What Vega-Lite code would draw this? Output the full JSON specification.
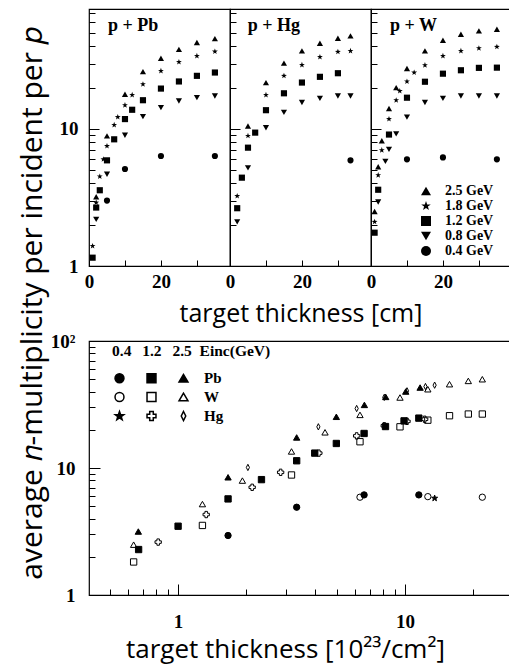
{
  "$schema": "https://vega.github.io/schema/vega-lite/v6.json",
  "padding": {"left": 17, "top": 8, "right": 0, "bottom": 5},
  "background": "white",
  "config": {
    "view": {"stroke": "black", "strokeWidth": 1.2},
    "axis": {"grid": false, "domain": false, "tickColor": "black", "tickWidth": 1, "labelColor": "black", "labelFont": "Liberation Serif", "labelFontWeight": "bold", "labelFontSize": 19, "titleFont": "Open Sans", "titleFontWeight": "normal", "titleColor": "black", "titleFontSize": 25},
    "legend": {"labelColor": "black", "titleColor": "black"}
  },
  "datasets": {
    "top": [
      {"target": "Pb", "E": "2.5 GeV", "cm": 2, "n": 3.2},
      {"target": "Pb", "E": "2.5 GeV", "cm": 5, "n": 8.9},
      {"target": "Pb", "E": "2.5 GeV", "cm": 10, "n": 17.9},
      {"target": "Pb", "E": "2.5 GeV", "cm": 15, "n": 26.2},
      {"target": "Pb", "E": "2.5 GeV", "cm": 20, "n": 32.8},
      {"target": "Pb", "E": "2.5 GeV", "cm": 25, "n": 38.1},
      {"target": "Pb", "E": "2.5 GeV", "cm": 30, "n": 42.7},
      {"target": "Pb", "E": "2.5 GeV", "cm": 35, "n": 45.6},
      {"target": "Pb", "E": "1.8 GeV", "cm": 1, "n": 1.4},
      {"target": "Pb", "E": "1.8 GeV", "cm": 2, "n": 2.9},
      {"target": "Pb", "E": "1.8 GeV", "cm": 3, "n": 4.5},
      {"target": "Pb", "E": "1.8 GeV", "cm": 4, "n": 6.0},
      {"target": "Pb", "E": "1.8 GeV", "cm": 5, "n": 7.5},
      {"target": "Pb", "E": "1.8 GeV", "cm": 7, "n": 10.7},
      {"target": "Pb", "E": "1.8 GeV", "cm": 8, "n": 12.2},
      {"target": "Pb", "E": "1.8 GeV", "cm": 10, "n": 14.9},
      {"target": "Pb", "E": "1.8 GeV", "cm": 12, "n": 17.7},
      {"target": "Pb", "E": "1.8 GeV", "cm": 15, "n": 21.2},
      {"target": "Pb", "E": "1.8 GeV", "cm": 20, "n": 26.5},
      {"target": "Pb", "E": "1.8 GeV", "cm": 25, "n": 30.8},
      {"target": "Pb", "E": "1.8 GeV", "cm": 30, "n": 34.1},
      {"target": "Pb", "E": "1.8 GeV", "cm": 35, "n": 36.7},
      {"target": "Pb", "E": "1.2 GeV", "cm": 1, "n": 1.15},
      {"target": "Pb", "E": "1.2 GeV", "cm": 2, "n": 2.67},
      {"target": "Pb", "E": "1.2 GeV", "cm": 3, "n": 3.57},
      {"target": "Pb", "E": "1.2 GeV", "cm": 5, "n": 5.9},
      {"target": "Pb", "E": "1.2 GeV", "cm": 7, "n": 8.4},
      {"target": "Pb", "E": "1.2 GeV", "cm": 10, "n": 11.8},
      {"target": "Pb", "E": "1.2 GeV", "cm": 12, "n": 13.8},
      {"target": "Pb", "E": "1.2 GeV", "cm": 15, "n": 16.2},
      {"target": "Pb", "E": "1.2 GeV", "cm": 20, "n": 19.7},
      {"target": "Pb", "E": "1.2 GeV", "cm": 25, "n": 22.2},
      {"target": "Pb", "E": "1.2 GeV", "cm": 30, "n": 24.4},
      {"target": "Pb", "E": "1.2 GeV", "cm": 35, "n": 25.8},
      {"target": "Pb", "E": "0.8 GeV", "cm": 2, "n": 2.19},
      {"target": "Pb", "E": "0.8 GeV", "cm": 5, "n": 4.67},
      {"target": "Pb", "E": "0.8 GeV", "cm": 10, "n": 9.0},
      {"target": "Pb", "E": "0.8 GeV", "cm": 15, "n": 12.3},
      {"target": "Pb", "E": "0.8 GeV", "cm": 20, "n": 14.3},
      {"target": "Pb", "E": "0.8 GeV", "cm": 25, "n": 16.0},
      {"target": "Pb", "E": "0.8 GeV", "cm": 30, "n": 16.9},
      {"target": "Pb", "E": "0.8 GeV", "cm": 35, "n": 17.4},
      {"target": "Pb", "E": "0.4 GeV", "cm": 5, "n": 3.0},
      {"target": "Pb", "E": "0.4 GeV", "cm": 10, "n": 5.1},
      {"target": "Pb", "E": "0.4 GeV", "cm": 20, "n": 6.35},
      {"target": "Pb", "E": "0.4 GeV", "cm": 35, "n": 6.35},
      {"target": "Hg", "E": "2.5 GeV", "cm": 5, "n": 10.5},
      {"target": "Hg", "E": "2.5 GeV", "cm": 10, "n": 21.8},
      {"target": "Hg", "E": "2.5 GeV", "cm": 15, "n": 30.2},
      {"target": "Hg", "E": "2.5 GeV", "cm": 20, "n": 37.1},
      {"target": "Hg", "E": "2.5 GeV", "cm": 25, "n": 42.2},
      {"target": "Hg", "E": "2.5 GeV", "cm": 30, "n": 45.9},
      {"target": "Hg", "E": "2.5 GeV", "cm": 33.5, "n": 47.7},
      {"target": "Hg", "E": "1.8 GeV", "cm": 2, "n": 3.24},
      {"target": "Hg", "E": "1.8 GeV", "cm": 5, "n": 8.9},
      {"target": "Hg", "E": "1.8 GeV", "cm": 10, "n": 17.7},
      {"target": "Hg", "E": "1.8 GeV", "cm": 15, "n": 24.4},
      {"target": "Hg", "E": "1.8 GeV", "cm": 20, "n": 29.3},
      {"target": "Hg", "E": "1.8 GeV", "cm": 25, "n": 33.5},
      {"target": "Hg", "E": "1.8 GeV", "cm": 30, "n": 36.5},
      {"target": "Hg", "E": "1.8 GeV", "cm": 33.5, "n": 37.1},
      {"target": "Hg", "E": "1.2 GeV", "cm": 2, "n": 2.64},
      {"target": "Hg", "E": "1.2 GeV", "cm": 3.3, "n": 4.41},
      {"target": "Hg", "E": "1.2 GeV", "cm": 5, "n": 7.3},
      {"target": "Hg", "E": "1.2 GeV", "cm": 7, "n": 9.4},
      {"target": "Hg", "E": "1.2 GeV", "cm": 10, "n": 13.7},
      {"target": "Hg", "E": "1.2 GeV", "cm": 15, "n": 18.2},
      {"target": "Hg", "E": "1.2 GeV", "cm": 20, "n": 21.8},
      {"target": "Hg", "E": "1.2 GeV", "cm": 25, "n": 24.0},
      {"target": "Hg", "E": "1.2 GeV", "cm": 30, "n": 25.5},
      {"target": "Hg", "E": "0.8 GeV", "cm": 2, "n": 2.1},
      {"target": "Hg", "E": "0.8 GeV", "cm": 5, "n": 5.2},
      {"target": "Hg", "E": "0.8 GeV", "cm": 10, "n": 10.2},
      {"target": "Hg", "E": "0.8 GeV", "cm": 15, "n": 13.2},
      {"target": "Hg", "E": "0.8 GeV", "cm": 20, "n": 15.6},
      {"target": "Hg", "E": "0.8 GeV", "cm": 25, "n": 16.7},
      {"target": "Hg", "E": "0.8 GeV", "cm": 30, "n": 17.4},
      {"target": "Hg", "E": "0.8 GeV", "cm": 33.5, "n": 17.4},
      {"target": "Hg", "E": "0.4 GeV", "cm": 33.5, "n": 5.9},
      {"target": "W", "E": "2.5 GeV", "cm": 1, "n": 2.5},
      {"target": "W", "E": "2.5 GeV", "cm": 2, "n": 5.3},
      {"target": "W", "E": "2.5 GeV", "cm": 3, "n": 8.2},
      {"target": "W", "E": "2.5 GeV", "cm": 5, "n": 14.1},
      {"target": "W", "E": "2.5 GeV", "cm": 7, "n": 20.0},
      {"target": "W", "E": "2.5 GeV", "cm": 10, "n": 27.6},
      {"target": "W", "E": "2.5 GeV", "cm": 15, "n": 37.1},
      {"target": "W", "E": "2.5 GeV", "cm": 20, "n": 44.4},
      {"target": "W", "E": "2.5 GeV", "cm": 25, "n": 49.1},
      {"target": "W", "E": "2.5 GeV", "cm": 30, "n": 51.9},
      {"target": "W", "E": "2.5 GeV", "cm": 35, "n": 53.4},
      {"target": "W", "E": "1.8 GeV", "cm": 1, "n": 2.1},
      {"target": "W", "E": "1.8 GeV", "cm": 2, "n": 4.6},
      {"target": "W", "E": "1.8 GeV", "cm": 3, "n": 7.0},
      {"target": "W", "E": "1.8 GeV", "cm": 5, "n": 11.8},
      {"target": "W", "E": "1.8 GeV", "cm": 7, "n": 16.2},
      {"target": "W", "E": "1.8 GeV", "cm": 8, "n": 18.9},
      {"target": "W", "E": "1.8 GeV", "cm": 10, "n": 22.2},
      {"target": "W", "E": "1.8 GeV", "cm": 12, "n": 25.8},
      {"target": "W", "E": "1.8 GeV", "cm": 15, "n": 29.2},
      {"target": "W", "E": "1.8 GeV", "cm": 20, "n": 34.1},
      {"target": "W", "E": "1.8 GeV", "cm": 25, "n": 37.1},
      {"target": "W", "E": "1.8 GeV", "cm": 30, "n": 38.8},
      {"target": "W", "E": "1.8 GeV", "cm": 35, "n": 39.7},
      {"target": "W", "E": "1.2 GeV", "cm": 1, "n": 1.75},
      {"target": "W", "E": "1.2 GeV", "cm": 2, "n": 3.6},
      {"target": "W", "E": "1.2 GeV", "cm": 5, "n": 9.1},
      {"target": "W", "E": "1.2 GeV", "cm": 10, "n": 16.9},
      {"target": "W", "E": "1.2 GeV", "cm": 15, "n": 22.1},
      {"target": "W", "E": "1.2 GeV", "cm": 20, "n": 25.3},
      {"target": "W", "E": "1.2 GeV", "cm": 25, "n": 26.8},
      {"target": "W", "E": "1.2 GeV", "cm": 30, "n": 27.9},
      {"target": "W", "E": "1.2 GeV", "cm": 35, "n": 28.0},
      {"target": "W", "E": "0.8 GeV", "cm": 2, "n": 2.93},
      {"target": "W", "E": "0.8 GeV", "cm": 4, "n": 5.8},
      {"target": "W", "E": "0.8 GeV", "cm": 5, "n": 7.1},
      {"target": "W", "E": "0.8 GeV", "cm": 7, "n": 9.2},
      {"target": "W", "E": "0.8 GeV", "cm": 10, "n": 12.2},
      {"target": "W", "E": "0.8 GeV", "cm": 15, "n": 15.6},
      {"target": "W", "E": "0.8 GeV", "cm": 20, "n": 16.7},
      {"target": "W", "E": "0.8 GeV", "cm": 25, "n": 17.4},
      {"target": "W", "E": "0.8 GeV", "cm": 30, "n": 17.4},
      {"target": "W", "E": "0.8 GeV", "cm": 35, "n": 17.4},
      {"target": "W", "E": "0.4 GeV", "cm": 10, "n": 6.0},
      {"target": "W", "E": "0.4 GeV", "cm": 20, "n": 6.2},
      {"target": "W", "E": "0.4 GeV", "cm": 35, "n": 6.0}
    ],
    "bottom": [
      {"key": "Pb 0.4", "t": 1.66, "n": 2.94},
      {"key": "Pb 0.4", "t": 3.33, "n": 4.91},
      {"key": "Pb 0.4", "t": 6.6, "n": 6.14},
      {"key": "Pb 0.4", "t": 11.5, "n": 6.14},
      {"key": "Pb 1.2", "t": 0.67, "n": 2.28},
      {"key": "Pb 1.2", "t": 1.0, "n": 3.48},
      {"key": "Pb 1.2", "t": 1.66, "n": 5.71},
      {"key": "Pb 1.2", "t": 2.33, "n": 8.1},
      {"key": "Pb 1.2", "t": 3.33, "n": 11.4},
      {"key": "Pb 1.2", "t": 4.0, "n": 13.1},
      {"key": "Pb 1.2", "t": 4.98, "n": 15.6},
      {"key": "Pb 1.2", "t": 6.6, "n": 18.7},
      {"key": "Pb 1.2", "t": 8.2, "n": 21.2},
      {"key": "Pb 1.2", "t": 9.9, "n": 23.5},
      {"key": "Pb 1.2", "t": 11.5, "n": 24.7},
      {"key": "Pb 2.5", "t": 0.668, "n": 3.16},
      {"key": "Pb 2.5", "t": 1.66, "n": 8.45},
      {"key": "Pb 2.5", "t": 3.33, "n": 17.4},
      {"key": "Pb 2.5", "t": 4.98, "n": 25.3},
      {"key": "Pb 2.5", "t": 6.62, "n": 31.4},
      {"key": "Pb 2.5", "t": 8.22, "n": 36.3},
      {"key": "Pb 2.5", "t": 10.07, "n": 40.0},
      {"key": "Pb 2.5", "t": 11.65, "n": 43.0},
      {"key": "W 0.4", "t": 6.33, "n": 5.89},
      {"key": "W 0.4", "t": 12.6, "n": 5.95},
      {"key": "W 0.4", "t": 21.9, "n": 5.89},
      {"key": "W 1.2", "t": 0.637, "n": 1.82},
      {"key": "W 1.2", "t": 1.28, "n": 3.53},
      {"key": "W 1.2", "t": 3.16, "n": 8.81},
      {"key": "W 1.2", "t": 6.33, "n": 16.1},
      {"key": "W 1.2", "t": 9.5, "n": 21.1},
      {"key": "W 1.2", "t": 12.6, "n": 23.8},
      {"key": "W 1.2", "t": 15.7, "n": 25.8},
      {"key": "W 1.2", "t": 19.0, "n": 26.6},
      {"key": "W 1.2", "t": 21.9, "n": 26.6},
      {"key": "W 2.5", "t": 0.637, "n": 2.49},
      {"key": "W 2.5", "t": 1.28, "n": 5.2},
      {"key": "W 2.5", "t": 1.92, "n": 7.96},
      {"key": "W 2.5", "t": 3.16, "n": 13.5},
      {"key": "W 2.5", "t": 4.44, "n": 19.1},
      {"key": "W 2.5", "t": 6.33, "n": 26.2},
      {"key": "W 2.5", "t": 9.5, "n": 35.9},
      {"key": "W 2.5", "t": 12.6, "n": 41.7},
      {"key": "W 2.5", "t": 15.7, "n": 45.7},
      {"key": "W 2.5", "t": 19.0, "n": 48.5},
      {"key": "W 2.5", "t": 21.9, "n": 50.0},
      {"key": "Hg 0.4", "t": 13.5, "n": 5.78},
      {"key": "Hg 1.2", "t": 0.817, "n": 2.61},
      {"key": "Hg 1.2", "t": 1.33, "n": 4.3},
      {"key": "Hg 1.2", "t": 2.12, "n": 7.05},
      {"key": "Hg 1.2", "t": 2.83, "n": 9.25},
      {"key": "Hg 1.2", "t": 4.17, "n": 13.1},
      {"key": "Hg 1.2", "t": 6.12, "n": 17.9},
      {"key": "Hg 1.2", "t": 8.1, "n": 21.5},
      {"key": "Hg 1.2", "t": 10.2, "n": 23.3},
      {"key": "Hg 1.2", "t": 12.2, "n": 24.2},
      {"key": "Hg 2.5", "t": 2.03, "n": 10.1},
      {"key": "Hg 2.5", "t": 4.15, "n": 21.1},
      {"key": "Hg 2.5", "t": 6.12, "n": 29.4},
      {"key": "Hg 2.5", "t": 8.1, "n": 36.0},
      {"key": "Hg 2.5", "t": 10.2, "n": 40.5},
      {"key": "Hg 2.5", "t": 12.3, "n": 43.8},
      {"key": "Hg 2.5", "t": 13.5, "n": 44.9}
    ],
    "labels": [
      {"target": "Pb", "label": "p + Pb"},
      {"target": "Hg", "label": "p + Hg"},
      {"target": "W", "label": "p + W"}
    ],
    "ytitle": [
      {"title": "average 𝑛-multiplicity per incident per 𝑝"}
    ]
  },
  "spacing": 0,
  "resolve": {"scale": {"x": "independent", "y": "independent", "shape": "independent", "fill": "independent"}, "legend": {"shape": "independent", "fill": "independent"}},
  "hconcat": [
    {
      "width": 30, "height": 589,
      "view": {"stroke": null},
      "data": {"name": "ytitle"},
      "mark": {"type": "text", "angle": 270, "font": "Open Sans", "fontSize": 30, "align": "center", "baseline": "middle", "color": "black"},
      "encoding": {"text": {"field": "title"}}
    },
    {
      "spacing": 4,
      "resolve": {"scale": {"x": "independent", "y": "independent", "shape": "independent", "fill": "independent"}, "legend": {"shape": "independent", "fill": "independent"}},
      "vconcat": [
        {
          "bounds": "flush",
          "spacing": 0,
          "resolve": {"scale": {"x": "independent", "y": "independent", "shape": "independent"}, "legend": {"shape": "independent"}},
          "hconcat": [
            {
              "width": 141, "height": 257,
              "layer": [
                {
                  "data": {"name": "top"},
                  "transform": [{"filter": "datum.target == 'Pb'"}],
                  "mark": {"type": "point", "filled": true, "color": "black", "size": 38, "opacity": 1},
                  "encoding": {
                    "x": {"field": "cm", "type": "quantitative", "scale": {"domain": [0, 39.2], "nice": false, "zero": false},
                          "axis": {"values": [0, 5, 10, 15, 20, 25, 30, 35], "labelExpr": "datum.value == 0 || datum.value == 20 ? datum.label : ''", "title": null, "tickSize": -6, "labelPadding": 12, "labelFlush": false}},
                    "y": {"field": "n", "type": "quantitative", "scale": {"type": "log", "domain": [1, 75], "nice": false},
                          "axis": {"values": [1, 2, 3, 4, 5, 6, 7, 8, 9, 10, 20, 30, 40, 50, 60, 70], "labelExpr": "datum.value == 1 || datum.value == 10 ? datum.label : ''", "title": null,
                                   "tickSize": {"condition": {"test": "datum.value == 10", "value": -10}, "value": -6},
                                   "labelPadding": {"condition": {"test": "datum.value == 10", "value": 21}, "value": 17}, "labelFlush": false}},
                    "shape": {"field": "E", "type": "nominal", "scale": {"domain": ["2.5 GeV", "1.8 GeV", "1.2 GeV", "0.8 GeV", "0.4 GeV"], "range": ["triangle-up", "M0,-1L0.235,-0.324L0.951,-0.309L0.38,0.124L0.588,0.809L0,0.4L-0.588,0.809L-0.38,0.124L-0.951,-0.309L-0.235,-0.324Z", "square", "triangle-down", "circle"]}, "legend": null}
                  }
                },
                {
                  "data": {"name": "labels"},
                  "transform": [{"filter": "datum.target == 'Pb'"}],
                  "mark": {"type": "text", "font": "Liberation Serif", "fontWeight": "bold", "fontSize": 18, "align": "left", "baseline": "middle", "color": "black"},
                  "encoding": {"x": {"datum": 5.3}, "y": {"datum": 56}, "text": {"field": "label"}}
                }
              ]
            },
            {
              "width": 141, "height": 257,
              "layer": [
                {
                  "data": {"name": "top"},
                  "transform": [{"filter": "datum.target == 'Hg'"}],
                  "mark": {"type": "point", "filled": true, "color": "black", "size": 38, "opacity": 1},
                  "encoding": {
                    "x": {"field": "cm", "type": "quantitative", "scale": {"domain": [0, 39.2], "nice": false, "zero": false},
                          "axis": {"values": [0, 5, 10, 15, 20, 25, 30, 35], "labelExpr": "datum.value == 0 || datum.value == 20 ? datum.label : ''", "title": "target thickness [cm]", "titlePadding": 10, "tickSize": -6, "labelPadding": 12, "labelFlush": false}},
                    "y": {"field": "n", "type": "quantitative", "scale": {"type": "log", "domain": [1, 75], "nice": false},
                          "axis": {"values": [1, 2, 3, 4, 5, 6, 7, 8, 9, 10, 20, 30, 40, 50, 60, 70], "labels": false, "title": null, "tickSize": {"condition": {"test": "datum.value == 10", "value": -10}, "value": -6}}},
                    "shape": {"field": "E", "type": "nominal", "scale": {"domain": ["2.5 GeV", "1.8 GeV", "1.2 GeV", "0.8 GeV", "0.4 GeV"], "range": ["triangle-up", "M0,-1L0.235,-0.324L0.951,-0.309L0.38,0.124L0.588,0.809L0,0.4L-0.588,0.809L-0.38,0.124L-0.951,-0.309L-0.235,-0.324Z", "square", "triangle-down", "circle"]}, "legend": null}
                  }
                },
                {
                  "data": {"name": "labels"},
                  "transform": [{"filter": "datum.target == 'Hg'"}],
                  "mark": {"type": "text", "font": "Liberation Serif", "fontWeight": "bold", "fontSize": 18, "align": "left", "baseline": "middle", "color": "black"},
                  "encoding": {"x": {"datum": 4.9}, "y": {"datum": 56}, "text": {"field": "label"}}
                }
              ]
            },
            {
              "width": 141, "height": 257,
              "layer": [
                {
                  "data": {"name": "top"},
                  "transform": [{"filter": "datum.target == 'W'"}],
                  "mark": {"type": "point", "filled": true, "color": "black", "size": 38, "opacity": 1},
                  "encoding": {
                    "x": {"field": "cm", "type": "quantitative", "scale": {"domain": [0, 39.2], "nice": false, "zero": false},
                          "axis": {"values": [0, 5, 10, 15, 20, 25, 30, 35], "labelExpr": "datum.value == 0 || datum.value == 20 ? datum.label : ''", "title": null, "tickSize": -6, "labelPadding": 12, "labelFlush": false}},
                    "y": {"field": "n", "type": "quantitative", "scale": {"type": "log", "domain": [1, 75], "nice": false},
                          "axis": {"values": [1, 2, 3, 4, 5, 6, 7, 8, 9, 10, 20, 30, 40, 50, 60, 70], "labels": false, "title": null, "tickSize": {"condition": {"test": "datum.value == 10", "value": -10}, "value": -6}}},
                    "shape": {"field": "E", "type": "nominal", "scale": {"domain": ["2.5 GeV", "1.8 GeV", "1.2 GeV", "0.8 GeV", "0.4 GeV"], "range": ["triangle-up", "M0,-1L0.235,-0.324L0.951,-0.309L0.38,0.124L0.588,0.809L0,0.4L-0.588,0.809L-0.38,0.124L-0.951,-0.309L-0.235,-0.324Z", "square", "triangle-down", "circle"]},
                              "legend": {"orient": "none", "legendX": 48, "legendY": 175, "title": null, "labelFont": "Liberation Serif", "labelFontWeight": "bold", "labelFontSize": 14, "labelColor": "black", "symbolSize": 100, "symbolFillColor": "black", "symbolStrokeColor": "black", "symbolStrokeWidth": 0, "rowPadding": 1, "labelOffset": 12}}
                  }
                },
                {
                  "data": {"name": "labels"},
                  "transform": [{"filter": "datum.target == 'W'"}],
                  "mark": {"type": "text", "font": "Liberation Serif", "fontWeight": "bold", "fontSize": 18, "align": "left", "baseline": "middle", "color": "black"},
                  "encoding": {"x": {"datum": 5.3}, "y": {"datum": 56}, "text": {"field": "label"}}
                }
              ]
            }
          ]
        },
        {
          "width": 421, "height": 254,
          "data": {"name": "bottom"},
          "mark": {"type": "point", "stroke": "black", "strokeWidth": 1, "size": 40, "opacity": 1, "fillOpacity": 1},
          "encoding": {
            "x": {"field": "t", "type": "quantitative", "scale": {"type": "log", "domain": [0.405, 29], "nice": false},
                  "axis": {"values": [0.5, 0.6, 0.7, 0.8, 0.9, 1, 2, 3, 4, 5, 6, 7, 8, 9, 10, 20], "labelExpr": "datum.value == 1 || datum.value == 10 ? datum.label : ''",
                           "tickSize": {"condition": {"test": "datum.value == 1 || datum.value == 10", "value": -11}, "value": -6},
                           "labelPadding": {"condition": {"test": "datum.value == 1 || datum.value == 10", "value": 28}, "value": 23}, "labelFlush": false,
                           "title": "target thickness [10²³/cm²]", "titleFontSize": 26, "titlePadding": 5, "titleX": 196}},
            "y": {"field": "n", "type": "quantitative", "scale": {"type": "log", "domain": [1, 100], "nice": false},
                  "axis": {"values": [1, 2, 3, 4, 5, 6, 7, 8, 9, 10, 20, 30, 40, 50, 60, 70, 80, 90, 100], "labelExpr": "datum.value == 100 ? '10²' : (datum.value == 1 || datum.value == 10 ? datum.label : '')",
                           "tickSize": {"condition": {"test": "datum.value == 10", "value": -11}, "value": -6},
                           "labelPadding": {"condition": {"test": "datum.value == 10", "value": 25}, "value": 20}, "labelFlush": false, "title": null}},
            "shape": {"field": "key", "type": "nominal",
                      "scale": {"domain": ["Pb 0.4", "W 0.4", "Hg 0.4", "Pb 1.2", "W 1.2", "Hg 1.2", "Pb 2.5", "W 2.5", "Hg 2.5"],
                                "range": ["circle", "circle", "M0,-1L0.235,-0.324L0.951,-0.309L0.38,0.124L0.588,0.809L0,0.4L-0.588,0.809L-0.38,0.124L-0.951,-0.309L-0.235,-0.324Z", "square", "square", "cross", "triangle-up", "triangle-up", "M0,-1L0.5,0L0,1L-0.5,0Z"]},
                      "legend": {"orient": "none", "legendX": 23, "legendY": 3, "columns": 3, "title": "0.4\u2002\u20091.2\u2002\u20092.5\u2002Einc(GeV)", "titleFont": "Liberation Serif", "titleFontWeight": "bold", "titleFontSize": 15.5, "titleLimit": 400, "titleColor": "black", "titlePadding": 11, "labelFont": "Liberation Serif", "labelFontWeight": "bold", "labelFontSize": 15, "labelColor": "black", "labelExpr": "indexof(datum.label, '2.5') >= 0 ? split(datum.label, ' ')[0] : ''", "symbolSize": 80, "columnPadding": 4, "rowPadding": 3, "labelOffset": 13,
                                 "encode": {"symbols": {"update": {"stroke": {"value": "black"}, "strokeWidth": {"value": 1}}}}}},
            "fill": {"field": "key", "type": "nominal",
                     "scale": {"domain": ["Pb 0.4", "W 0.4", "Hg 0.4", "Pb 1.2", "W 1.2", "Hg 1.2", "Pb 2.5", "W 2.5", "Hg 2.5"],
                               "range": ["black", "transparent", "black", "black", "transparent", "transparent", "black", "transparent", "transparent"]},
                     "legend": {"orient": "none", "legendX": 23, "legendY": 3, "columns": 3, "title": "0.4\u2002\u20091.2\u2002\u20092.5\u2002Einc(GeV)", "titleFont": "Liberation Serif", "titleFontWeight": "bold", "titleFontSize": 15.5, "titleLimit": 400, "titleColor": "black", "titlePadding": 11, "labelFont": "Liberation Serif", "labelFontWeight": "bold", "labelFontSize": 15, "labelColor": "black", "labelExpr": "indexof(datum.label, '2.5') >= 0 ? split(datum.label, ' ')[0] : ''", "symbolSize": 80, "columnPadding": 4, "rowPadding": 3, "labelOffset": 13,
                                "encode": {"symbols": {"update": {"stroke": {"value": "black"}, "strokeWidth": {"value": 1}}}}}}
          }
        }
      ]
    }
  ]
}
